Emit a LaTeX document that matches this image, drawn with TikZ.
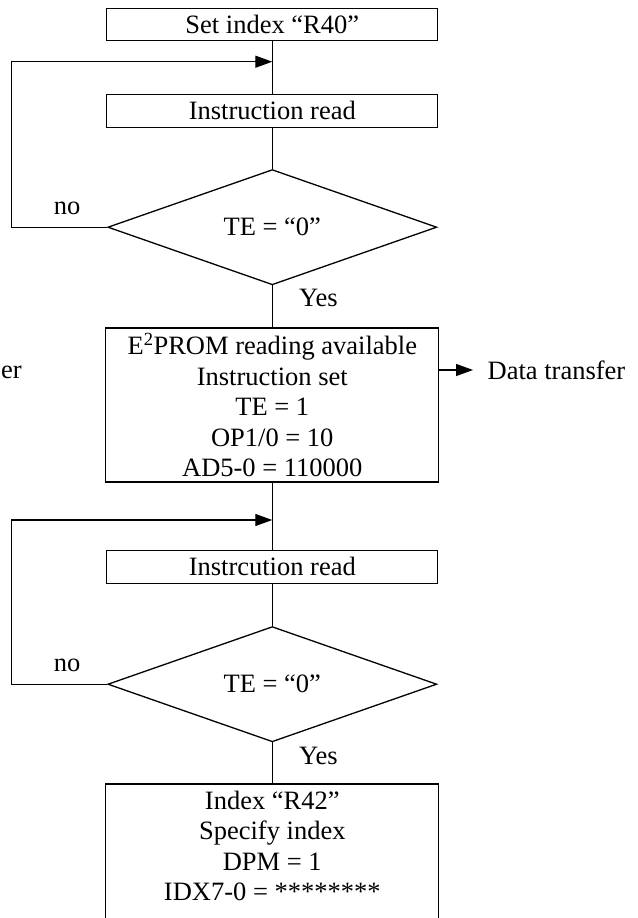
\documentclass[tikz,border=0pt]{standalone}
\usepackage{fontspec}
\setmainfont{Liberation Serif}
\usetikzlibrary{shapes.geometric,arrows.meta}

\begin{document}
\begin{tikzpicture}[x=1pt, y=-1pt,
      line width=1.3pt,
      font=\fontsize{26.5}{30.5}\selectfont,
      stepbox/.style={rectangle, draw, inner sep=0pt,
            minimum width=331pt, minimum height=32.5pt},
      bigbox/.style={rectangle, draw, inner sep=0pt, align=center,
            minimum width=333pt, minimum height=154pt},
      test/.style={diamond, draw, inner sep=0pt,
            minimum width=329pt, minimum height=91pt},
      lbl/.style={inner sep=0pt},
      flow/.style={-{Triangle[length=17pt,width=12pt]}}]
\useasboundingbox (0,0) rectangle (637,918);

\node[stepbox] (setidx) at (272.3,24.4) {Set index “R40”};
\node[stepbox] (read1) at (272.3,110.9) {Instruction read};
\node[test] (te1) at (272.3,227.2) {TE = “0”};
\node[bigbox] (eprom) at (272.3,405)
{
 E\textsuperscript{2}PROM reading available\\
 Instruction set\\
 TE = 1\\
 OP1/0 = 10\\
 AD5-0 = 110000
};
\node[stepbox] (read2) at (272.3,566.9) {Instrcution read};
\node[test] (te2) at (272.3,684.2) {TE = “0”};
\node[bigbox] (idx) at (272.3,861)
{
 Index “R42”\\
 Specify index\\
 DPM = 1\\
 IDX7-0 = ********\\
 ~
};

\node[lbl] (no1) at (67,208) {no};
\node[lbl] (yes1) at (318.5,298) {Yes};
\node[lbl] (no2) at (67,665.5) {no};
\node[lbl] (yes2) at (318.5,755.5) {Yes};
\node[lbl, anchor=west] (dright) at (487,370) {Data transfer};
\node[lbl, anchor=west] (dleft) at (0.5,372) {er};

\coordinate (join1) at (272.3,61.7);
\coordinate (join2) at (272.3,520);

\draw (setidx) -- (read1);
\draw (read1) -- (te1);
\draw (te1) -- (eprom);
\draw (eprom) -- (read2);
\draw (read2) -- (te2);
\draw (te2) -- (idx);

\draw[flow] (te1.west) -- ++(-95.5,0) |- (join1);
\draw[flow] (te2.west) -- ++(-95.5,0) |- (join2);
\draw[flow, shorten >=14pt] (eprom.east |- dright.west) -- (dright.west);
\end{tikzpicture}
\end{document}
